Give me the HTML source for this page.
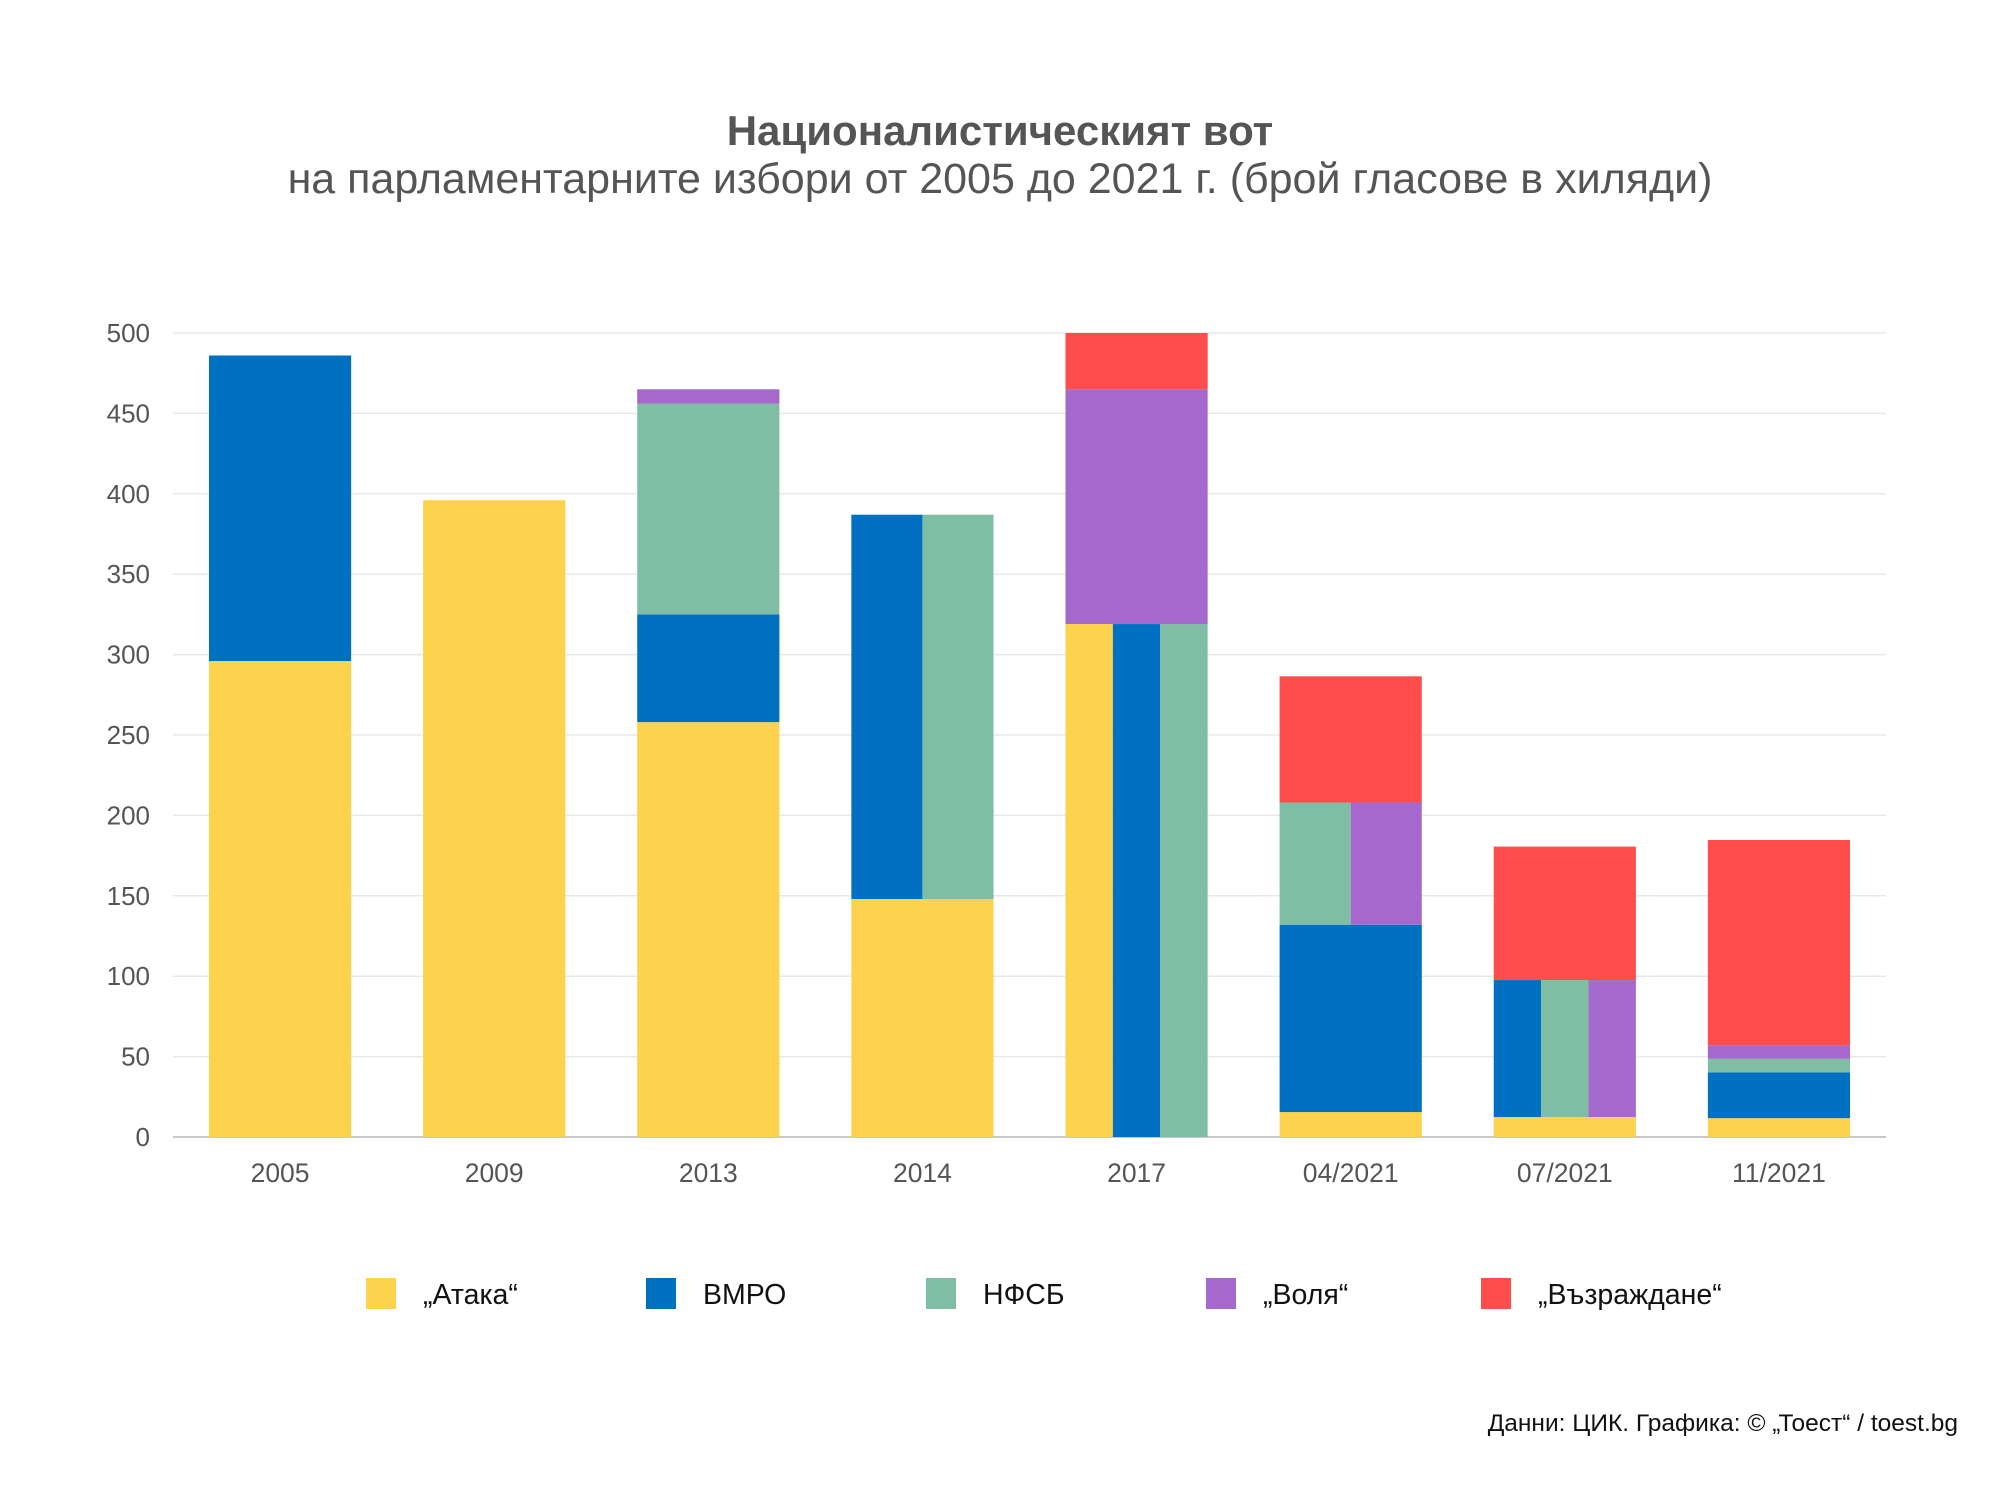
<!DOCTYPE html>
<html><head><meta charset="utf-8"><style>
html,body{margin:0;padding:0;background:#fff;}
svg{display:block;font-family:"Liberation Sans",sans-serif;}
</style></head><body>
<svg id="chart" width="2000" height="1506" viewBox="0 0 2000 1506">
<text x="1000" y="145" text-anchor="middle" font-size="42" font-weight="bold" fill="#555">Националистическият вот</text>
<text x="1000" y="193" text-anchor="middle" font-size="43" fill="#555">на парламентарните избори от 2005 до 2021 г. (брой гласове в хиляди)</text>
<g id="grid"></g>
<g id="yticks"></g>
<g id="bars"></g>
<g id="xticks"></g>
<g id="legend"></g>
<text x="1958" y="1431" text-anchor="end" font-size="24.5" fill="#111">Данни: ЦИК. Графика: © „Тоест“ / toest.bg</text>
</svg>
<script>
const categories = ["2005","2009","2013","2014","2017","04/2021","07/2021","11/2021"];
const seriesNames = ["„Атака“","ВМРО","НФСБ","„Воля“","„Възраждане“"];
const seriesColors = ["#FDD24C","#0070C0","#7FBDA5","#A568CC","#FF4D4D"];
const yTicks = [0,50,100,150,200,250,300,350,400,450,500];
// layers per category: each layer = [series indices side by side, cumulative top value]
const layers2005 = [[[0],296],[[1],486]];
const layers2009 = [[[0],396]];
const layers2013 = [[[0],258],[[1],325],[[2],456],[[3],465]];
const layers2014 = [[[0],148],[[1,2],387]];
const layers2017 = [[[0,1,2],319],[[3],465],[[4],500]];
const layers042021 = [[[0],15.5],[[1],132],[[2,3],208],[[4],286.5]];
const layers072021 = [[[0],12.4],[[1,2,3],97.6],[[4],180.6]];
const layers112021 = [[[0],11.7],[[1],40.2],[[2],48.6],[[3],57],[[4],184.7]];
const allLayers = [layers2005,layers2009,layers2013,layers2014,layers2017,layers042021,layers072021,layers112021];

const NS="http://www.w3.org/2000/svg";
const plotL=173, plotR=1886, y0=1137, y500=333;
const band=(plotR-plotL)/categories.length, barW=band*0.664;
const yScale=v=>y0-(v/500)*(y0-y500);
const xCenter=i=>plotL+band*(i+0.5);
function mk(tag,attrs,parent){const e=document.createElementNS(NS,tag);for(const k in attrs)e.setAttribute(k,attrs[k]);parent.appendChild(e);return e;}

const grid=document.getElementById('grid'), yt=document.getElementById('yticks');
yTicks.forEach(v=>{
  const l=mk('line',{x1:plotL,x2:plotR,y1:yScale(v),y2:yScale(v),stroke:v===0?'#c8c8c8':'#e8e8e8','stroke-width':v===0?2:1.5},grid);
  
  
  const t=mk('text',{x:150,y:yScale(v)+9,'text-anchor':'end','font-size':26,fill:'#555'},yt);
  t.textContent=v;
  
  
});

const bars=document.getElementById('bars'), xt=document.getElementById('xticks');
allLayers.forEach((layers,i)=>{
  const left=xCenter(i)-barW/2;
  let prev=0;
  layers.forEach(([ser,top])=>{
    const w=barW/ser.length;
    ser.forEach((s,k)=>{
      const r=mk('rect',{x:left+k*w,y:yScale(top),width:w,height:yScale(prev)-yScale(top),fill:seriesColors[s]},bars);
      
      
    });
    prev=top;
  });
  const t=mk('text',{x:xCenter(i),y:1182,'text-anchor':'middle','font-size':26.5,fill:'#555'},xt);
  t.textContent=categories[i];
  
  
});

const lg=document.getElementById('legend');
const legX=[366,646,926,1206,1481];
seriesNames.forEach((n,i)=>{
  const r=mk('rect',{x:legX[i],y:1278,width:30,height:31,fill:seriesColors[i]},lg);
  
  
  const t=mk('text',{x:legX[i]+57,y:1304,'font-size':28.5,fill:'#111'},lg);
  t.textContent=n;
  
  
});
</script>
</body></html>
